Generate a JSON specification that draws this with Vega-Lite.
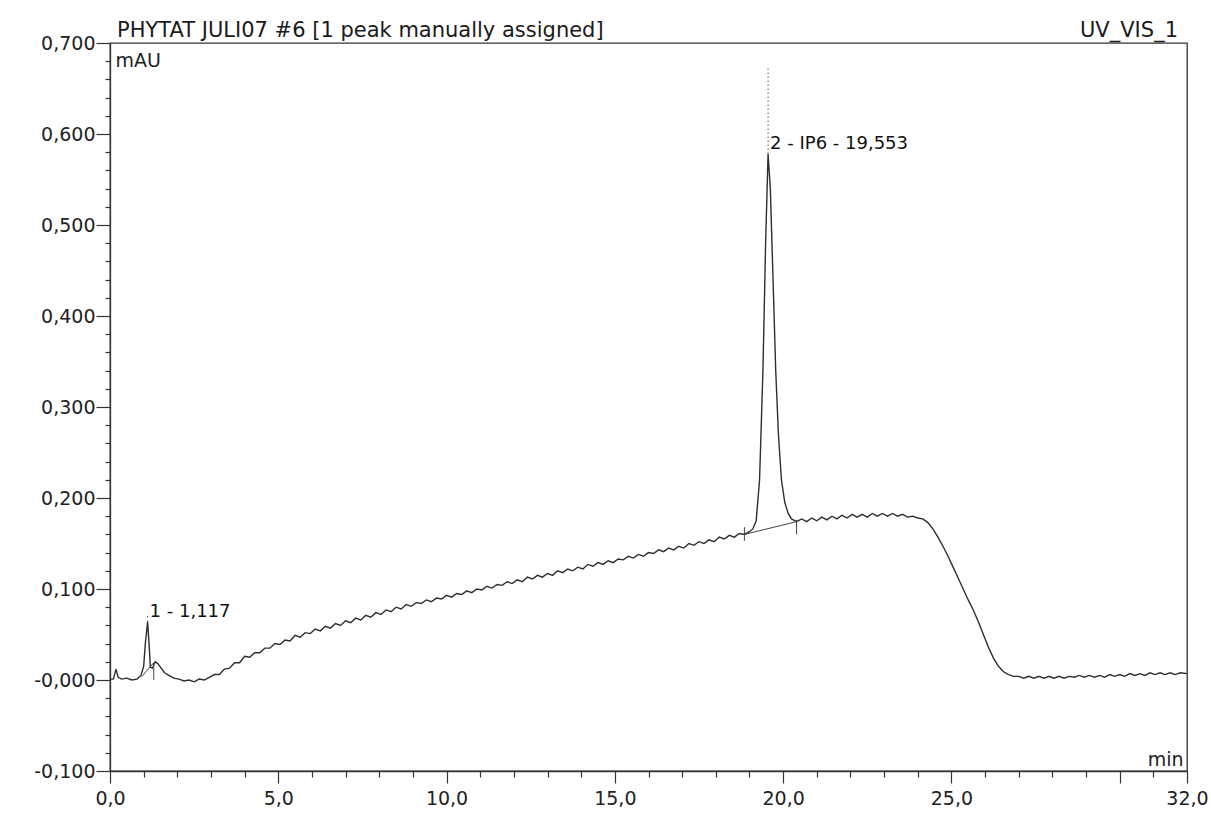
{
  "$schema": "https://vega.github.io/schema/vega-lite/v6.json",
  "width": 1077,
  "height": 728,
  "autosize": "none",
  "padding": {"left": 110, "top": 43, "right": 24, "bottom": 45},
  "background": "white",
  "config": {
    "view": {"stroke": "#333333", "strokeWidth": 1.3},
    "axis": {
      "grid": false,
      "domainColor": "#333333",
      "tickColor": "#333333",
      "labelColor": "#222222",
      "titleColor": "#222222",
      "labelFont": "DejaVu Sans",
      "titleFont": "DejaVu Sans",
      "labelFontSize": 19,
      "titleFontSize": 19,
      "titleFontWeight": "normal",
      "domainWidth": 1.3,
      "tickWidth": 1.2,
      "labelOverlap": false,
      "labelBound": false,
      "labelFlush": false
    }
  },
  "datasets": {
    "trace": [
      {"t": 0.00, "v": 0.001}, {"t": 0.10, "v": 0.001}, {"t": 0.18, "v": 0.012}, {"t": 0.24, "v": 0.003},
      {"t": 0.35, "v": 0.001}, {"t": 0.50, "v": 0.002}, {"t": 0.65, "v": 0.000}, {"t": 0.80, "v": 0.001},
      {"t": 0.92, "v": 0.005}, {"t": 1.00, "v": 0.015}, {"t": 1.05, "v": 0.040}, {"t": 1.117, "v": 0.064},
      {"t": 1.16, "v": 0.040}, {"t": 1.20, "v": 0.014}, {"t": 1.26, "v": 0.013}, {"t": 1.34, "v": 0.020},
      {"t": 1.42, "v": 0.018}, {"t": 1.52, "v": 0.013}, {"t": 1.62, "v": 0.008}, {"t": 1.75, "v": 0.005},
      {"t": 1.90, "v": 0.002}, {"t": 2.05, "v": 0.001}, {"t": 2.20, "v": -0.001}, {"t": 2.35, "v": 0.000},
      {"t": 2.50, "v": -0.002}, {"t": 2.65, "v": 0.001}, {"t": 2.80, "v": 0.000}, {"t": 2.95, "v": 0.003},
      {"t": 3.10, "v": 0.006}, {"t": 3.25, "v": 0.006}, {"t": 3.40, "v": 0.012}, {"t": 3.55, "v": 0.013},
      {"t": 3.70, "v": 0.019}, {"t": 3.85, "v": 0.019}, {"t": 4.00, "v": 0.026}, {"t": 4.15, "v": 0.025},
      {"t": 4.30, "v": 0.030}, {"t": 4.45, "v": 0.030}, {"t": 4.60, "v": 0.035}, {"t": 4.75, "v": 0.035},
      {"t": 4.90, "v": 0.040}, {"t": 5.05, "v": 0.039}, {"t": 5.20, "v": 0.044}, {"t": 5.35, "v": 0.043},
      {"t": 5.50, "v": 0.049}, {"t": 5.65, "v": 0.047}, {"t": 5.80, "v": 0.052}, {"t": 5.95, "v": 0.051},
      {"t": 6.10, "v": 0.056}, {"t": 6.25, "v": 0.054}, {"t": 6.40, "v": 0.059}, {"t": 6.55, "v": 0.057},
      {"t": 6.70, "v": 0.062}, {"t": 6.85, "v": 0.060}, {"t": 7.00, "v": 0.065}, {"t": 7.15, "v": 0.063},
      {"t": 7.30, "v": 0.068}, {"t": 7.45, "v": 0.066}, {"t": 7.60, "v": 0.071}, {"t": 7.75, "v": 0.069},
      {"t": 7.90, "v": 0.074}, {"t": 8.05, "v": 0.072}, {"t": 8.20, "v": 0.077}, {"t": 8.35, "v": 0.075},
      {"t": 8.50, "v": 0.080}, {"t": 8.65, "v": 0.078}, {"t": 8.80, "v": 0.083}, {"t": 8.95, "v": 0.081},
      {"t": 9.10, "v": 0.085}, {"t": 9.25, "v": 0.084}, {"t": 9.40, "v": 0.088}, {"t": 9.55, "v": 0.086},
      {"t": 9.70, "v": 0.090}, {"t": 9.85, "v": 0.089}, {"t": 10.00, "v": 0.093}, {"t": 10.15, "v": 0.091},
      {"t": 10.30, "v": 0.095}, {"t": 10.45, "v": 0.094}, {"t": 10.60, "v": 0.098}, {"t": 10.75, "v": 0.096},
      {"t": 10.90, "v": 0.100}, {"t": 11.05, "v": 0.099}, {"t": 11.20, "v": 0.103}, {"t": 11.35, "v": 0.101},
      {"t": 11.50, "v": 0.105}, {"t": 11.65, "v": 0.104}, {"t": 11.80, "v": 0.108}, {"t": 11.95, "v": 0.106},
      {"t": 12.10, "v": 0.110}, {"t": 12.25, "v": 0.108}, {"t": 12.40, "v": 0.113}, {"t": 12.55, "v": 0.111},
      {"t": 12.70, "v": 0.115}, {"t": 12.85, "v": 0.113}, {"t": 13.00, "v": 0.117}, {"t": 13.15, "v": 0.115},
      {"t": 13.30, "v": 0.120}, {"t": 13.45, "v": 0.118}, {"t": 13.60, "v": 0.122}, {"t": 13.75, "v": 0.120},
      {"t": 13.90, "v": 0.124}, {"t": 14.05, "v": 0.122}, {"t": 14.20, "v": 0.127}, {"t": 14.35, "v": 0.125},
      {"t": 14.50, "v": 0.129}, {"t": 14.65, "v": 0.127}, {"t": 14.80, "v": 0.131}, {"t": 14.95, "v": 0.129},
      {"t": 15.10, "v": 0.133}, {"t": 15.25, "v": 0.132}, {"t": 15.40, "v": 0.136}, {"t": 15.55, "v": 0.134},
      {"t": 15.70, "v": 0.138}, {"t": 15.85, "v": 0.136}, {"t": 16.00, "v": 0.140}, {"t": 16.15, "v": 0.139},
      {"t": 16.30, "v": 0.143}, {"t": 16.45, "v": 0.141}, {"t": 16.60, "v": 0.145}, {"t": 16.75, "v": 0.143},
      {"t": 16.90, "v": 0.147}, {"t": 17.05, "v": 0.145}, {"t": 17.20, "v": 0.150}, {"t": 17.35, "v": 0.148},
      {"t": 17.50, "v": 0.152}, {"t": 17.65, "v": 0.150}, {"t": 17.80, "v": 0.154}, {"t": 17.95, "v": 0.152},
      {"t": 18.10, "v": 0.157}, {"t": 18.25, "v": 0.155}, {"t": 18.40, "v": 0.159}, {"t": 18.55, "v": 0.157},
      {"t": 18.70, "v": 0.161}, {"t": 18.85, "v": 0.160}, {"t": 19.00, "v": 0.163}, {"t": 19.10, "v": 0.166},
      {"t": 19.20, "v": 0.175}, {"t": 19.30, "v": 0.220}, {"t": 19.40, "v": 0.340}, {"t": 19.48, "v": 0.480},
      {"t": 19.553, "v": 0.578}, {"t": 19.62, "v": 0.540}, {"t": 19.70, "v": 0.440}, {"t": 19.78, "v": 0.340},
      {"t": 19.86, "v": 0.270}, {"t": 19.95, "v": 0.220}, {"t": 20.05, "v": 0.195}, {"t": 20.15, "v": 0.183},
      {"t": 20.25, "v": 0.177}, {"t": 20.40, "v": 0.174}, {"t": 20.55, "v": 0.177}, {"t": 20.70, "v": 0.174},
      {"t": 20.85, "v": 0.178}, {"t": 21.00, "v": 0.175}, {"t": 21.15, "v": 0.179}, {"t": 21.30, "v": 0.176},
      {"t": 21.45, "v": 0.180}, {"t": 21.60, "v": 0.177}, {"t": 21.75, "v": 0.181}, {"t": 21.90, "v": 0.178},
      {"t": 22.05, "v": 0.182}, {"t": 22.20, "v": 0.179}, {"t": 22.35, "v": 0.182}, {"t": 22.50, "v": 0.179},
      {"t": 22.65, "v": 0.183}, {"t": 22.80, "v": 0.180}, {"t": 22.95, "v": 0.183}, {"t": 23.10, "v": 0.180},
      {"t": 23.25, "v": 0.183}, {"t": 23.40, "v": 0.180}, {"t": 23.55, "v": 0.182}, {"t": 23.70, "v": 0.179},
      {"t": 23.85, "v": 0.180}, {"t": 24.00, "v": 0.178}, {"t": 24.15, "v": 0.177}, {"t": 24.30, "v": 0.173},
      {"t": 24.45, "v": 0.166}, {"t": 24.60, "v": 0.157}, {"t": 24.75, "v": 0.147}, {"t": 24.90, "v": 0.136},
      {"t": 25.05, "v": 0.124}, {"t": 25.20, "v": 0.112}, {"t": 25.35, "v": 0.100}, {"t": 25.50, "v": 0.088},
      {"t": 25.65, "v": 0.077}, {"t": 25.80, "v": 0.064}, {"t": 25.95, "v": 0.050}, {"t": 26.10, "v": 0.036},
      {"t": 26.25, "v": 0.024}, {"t": 26.40, "v": 0.015}, {"t": 26.55, "v": 0.009}, {"t": 26.70, "v": 0.006},
      {"t": 26.85, "v": 0.004}, {"t": 27.00, "v": 0.004}, {"t": 27.15, "v": 0.002}, {"t": 27.30, "v": 0.004},
      {"t": 27.45, "v": 0.002}, {"t": 27.60, "v": 0.004}, {"t": 27.75, "v": 0.002}, {"t": 27.90, "v": 0.004},
      {"t": 28.05, "v": 0.002}, {"t": 28.20, "v": 0.004}, {"t": 28.35, "v": 0.002}, {"t": 28.50, "v": 0.004},
      {"t": 28.65, "v": 0.003}, {"t": 28.80, "v": 0.005}, {"t": 28.95, "v": 0.003}, {"t": 29.10, "v": 0.005},
      {"t": 29.25, "v": 0.003}, {"t": 29.40, "v": 0.005}, {"t": 29.55, "v": 0.003}, {"t": 29.70, "v": 0.006},
      {"t": 29.85, "v": 0.004}, {"t": 30.00, "v": 0.006}, {"t": 30.15, "v": 0.004}, {"t": 30.30, "v": 0.007},
      {"t": 30.45, "v": 0.005}, {"t": 30.60, "v": 0.007}, {"t": 30.75, "v": 0.005}, {"t": 30.90, "v": 0.008},
      {"t": 31.05, "v": 0.006}, {"t": 31.20, "v": 0.008}, {"t": 31.35, "v": 0.006}, {"t": 31.50, "v": 0.008},
      {"t": 31.65, "v": 0.006}, {"t": 31.80, "v": 0.008}, {"t": 32.00, "v": 0.007}
    ],
    "segments": [
      {"t": 18.85, "v": 0.160, "t2": 20.4, "v2": 0.174},
      {"t": 18.85, "v": 0.153, "t2": 18.85, "v2": 0.168},
      {"t": 20.4, "v": 0.160, "t2": 20.4, "v2": 0.176},
      {"t": 0.95, "v": 0.004, "t2": 1.3, "v2": 0.019},
      {"t": 1.3, "v": 0.000, "t2": 1.3, "v2": 0.019}
    ],
    "dotted": [
      {"t": 19.553, "v": 0.578, "t2": 19.553, "v2": 0.672},
      {"t": 1.117, "v": 0.064, "t2": 1.117, "v2": 0.072}
    ],
    "peaks": [
      {"t": 1.117, "v": 0.064, "label": "1 - 1,117"},
      {"t": 19.553, "v": 0.578, "label": "2 - IP6 - 19,553"}
    ]
  },
  "layer": [
    {
      "data": {"name": "trace"},
      "mark": {"type": "line", "color": "#2e2e2e", "strokeWidth": 1.4, "interpolate": "linear"},
      "encoding": {
        "x": {
          "field": "t", "type": "quantitative",
          "scale": {"domain": [0, 32], "nice": false, "zero": false},
          "axis": {
            "orient": "bottom",
            "values": [0, 5, 10, 15, 20, 25, 30, 32],
            "labelExpr": "datum.value === 30 ? '' : replace(format(datum.value, '.1f'), '.', ',')",
            "tickSize": 12,
            "labelPadding": 6,
            "title": "min",
            "titleAnchor": null,
            "titleAlign": "right",
            "titleBaseline": "alphabetic",
            "titleX": 1073,
            "titleY": -6
          }
        },
        "y": {
          "field": "v", "type": "quantitative",
          "scale": {"domain": [-0.1, 0.7], "nice": false, "zero": false},
          "axis": {
            "orient": "left",
            "values": [-0.1, 0, 0.1, 0.2, 0.3, 0.4, 0.5, 0.6, 0.7],
            "labelExpr": "datum.value === 0 ? '-0,000' : (datum.value < 0 ? '-' + replace(format(-datum.value, '.3f'), '.', ',') : replace(format(datum.value, '.3f'), '.', ','))",
            "tickSize": 14,
            "labelPadding": 1,
            "title": "mAU",
            "titleAngle": 0,
            "titleAnchor": null,
            "titleAlign": "left",
            "titleBaseline": "alphabetic",
            "titleX": 5,
            "titleY": 23
          }
        }
      }
    },
    {
      "data": {"name": "segments"},
      "mark": {"type": "rule", "color": "#444444", "strokeWidth": 1},
      "encoding": {
        "x": {
          "field": "t", "type": "quantitative",
          "scale": {"domain": [0, 32], "nice": false, "zero": false},
          "axis": {
            "orient": "bottom",
            "values": [1, 2, 3, 4, 6, 7, 8, 9, 11, 12, 13, 14, 16, 17, 18, 19, 21, 22, 23, 24, 26, 27, 28, 29, 31],
            "labels": false, "domain": false, "tickSize": 6, "title": null
          }
        },
        "x2": {"field": "t2"},
        "y": {
          "field": "v", "type": "quantitative",
          "scale": {"domain": [-0.1, 0.7], "nice": false, "zero": false},
          "axis": {
            "orient": "left",
            "values": [-0.08, -0.06, -0.04, -0.02, 0.02, 0.04, 0.06, 0.08, 0.12, 0.14, 0.16, 0.18, 0.22, 0.24, 0.26, 0.28, 0.32, 0.34, 0.36, 0.38, 0.42, 0.44, 0.46, 0.48, 0.52, 0.54, 0.56, 0.58, 0.62, 0.64, 0.66, 0.68],
            "labels": false, "domain": false, "tickSize": 5, "title": null
          }
        },
        "y2": {"field": "v2"}
      }
    },
    {
      "data": {"name": "dotted"},
      "mark": {"type": "rule", "color": "#555555", "strokeWidth": 1, "strokeDash": [1.5, 2.5]},
      "encoding": {
        "x": {"field": "t", "type": "quantitative", "axis": null},
        "x2": {"field": "t2"},
        "y": {"field": "v", "type": "quantitative", "axis": null},
        "y2": {"field": "v2"}
      }
    },
    {
      "data": {"name": "peaks"},
      "mark": {"type": "text", "align": "left", "baseline": "alphabetic", "dx": 2, "dy": -5, "font": "DejaVu Sans", "fontSize": 18, "color": "#111111"},
      "encoding": {
        "x": {"field": "t", "type": "quantitative", "axis": null},
        "y": {"field": "v", "type": "quantitative", "axis": null},
        "text": {"field": "label"}
      }
    },
    {
      "data": {"values": [{"label": "PHYTAT JULI07 #6 [1 peak manually assigned]"}]},
      "mark": {"type": "text", "align": "left", "baseline": "alphabetic", "dx": 7, "dy": -6, "font": "DejaVu Sans", "fontSize": 21, "color": "#1a1a1a"},
      "encoding": {
        "x": {"datum": 0, "type": "quantitative", "axis": null},
        "y": {"datum": 0.7, "type": "quantitative", "axis": null},
        "text": {"field": "label"}
      }
    },
    {
      "data": {"values": [{"label": "UV_VIS_1"}]},
      "mark": {"type": "text", "align": "right", "baseline": "alphabetic", "dx": -9, "dy": -6, "font": "DejaVu Sans", "fontSize": 21, "color": "#1a1a1a"},
      "encoding": {
        "x": {"datum": 32, "type": "quantitative", "axis": null},
        "y": {"datum": 0.7, "type": "quantitative", "axis": null},
        "text": {"field": "label"}
      }
    }
  ],
  "resolve": {"axis": {"x": "independent", "y": "independent"}}
}
